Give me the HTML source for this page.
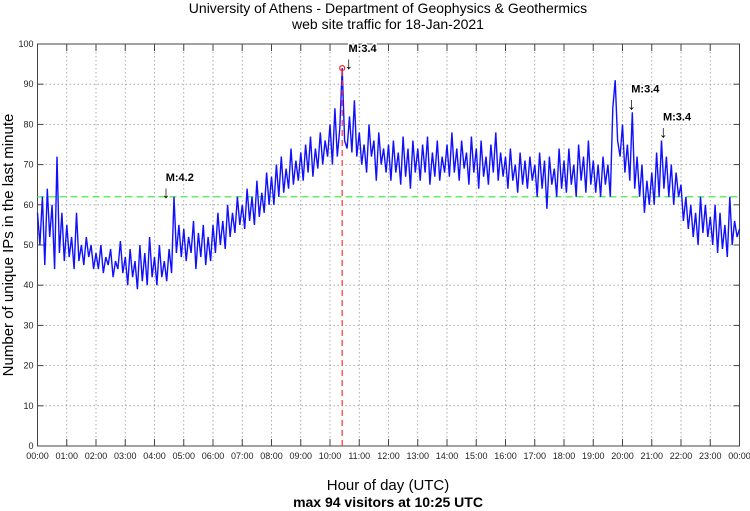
<!DOCTYPE html>
<html><head><meta charset="utf-8">
<style>
html,body{margin:0;padding:0;background:#fff;}
svg{display:block;font-family:"Liberation Sans",sans-serif;}
</style></head>
<body>
<svg id="chart" width="750" height="511" viewBox="0 0 750 511" xmlns="http://www.w3.org/2000/svg">
<text x="388" y="13" font-size="14" text-anchor="middle" fill="#000">University of Athens - Department of Geophysics &amp; Geothermics</text>
<text x="388" y="29" font-size="14" text-anchor="middle" fill="#000">web site traffic for 18-Jan-2021</text>
<text transform="translate(13,245) rotate(-90)" font-size="15" text-anchor="middle" fill="#000">Number of unique IPs in the last minute</text>
<text x="388" y="490" font-size="15" text-anchor="middle" fill="#000">Hour of day (UTC)</text>
<text x="388" y="507" font-size="14" font-weight="bold" text-anchor="middle" fill="#000">max 94 visitors at 10:25 UTC</text>
<g id="grid"></g>
<g id="axes"></g>
<g id="plot"></g>
</svg>
<script>
const yTicks = [0,10,20,30,40,50,60,70,80,90,100];
const xTickLabels = ["00:00","01:00","02:00","03:00","04:00","05:00","06:00","07:00","08:00","09:00","10:00","11:00","12:00","13:00","14:00","15:00","16:00","17:00","18:00","19:00","20:00","21:00","22:00","23:00","00:00"];
const stepMinutes = 5;
const visitors = [
58,50,62,45,64,52,60,44,72,48,58,46,
55,47,52,44,58,46,50,45,52,47,50,44,
48,44,50,43,47,45,49,42,46,44,51,43,
47,40,49,42,46,39,50,41,48,40,52,42,
47,40,50,42,46,41,49,43,62,48,55,47,
54,46,52,48,56,44,53,47,55,45,52,46,
55,48,58,50,56,49,60,52,58,53,62,55,
60,54,64,56,62,55,66,57,63,58,68,60,
67,60,70,62,72,63,69,64,74,65,71,66,
73,66,75,68,77,67,74,69,78,70,76,72,
80,70,84,72,79,94,76,74,82,73,86,72,
78,70,75,68,80,72,76,66,78,70,74,68,
75,66,76,68,73,65,77,67,74,64,76,68,
74,66,75,68,77,65,73,67,76,66,72,68,
75,67,78,68,74,66,76,69,73,65,77,68,
74,64,76,67,72,65,75,68,78,66,73,67,
72,64,74,66,70,63,73,65,71,64,72,66,
70,62,73,64,71,59,72,65,69,62,74,64,
71,63,74,65,70,62,75,66,72,63,76,65,
71,63,70,62,72,65,70,62,84,91,76,72,
80,68,75,66,83,64,72,62,70,58,66,60,
68,60,73,62,76,64,72,62,70,60,68,62,
65,56,62,54,60,52,58,50,62,53,60,52,
57,50,60,48,58,49,55,47,62,50,56,52,
54];
const avgLevel = 62;
const maxValue = 94;
const maxMinute = 625;
const quakeLabels = ["M:4.2","M:3.4","M:3.4","M:3.4"];
const quakeMinutes = [265,640,1220,1285];
const quakeValues = [62,94,84,77];

const L=37.5,R=739.5,T=44,B=446;
const xs = m => L + (R-L)*m/1440;
const ys = v => B - (B-T)*v/100;
const NS="http://www.w3.org/2000/svg";
function mk(tag,attrs,parent){const e=document.createElementNS(NS,tag);for(const k in attrs)e.setAttribute(k,attrs[k]);parent.appendChild(e);return e;}
const grid=document.getElementById('grid'),plot=document.getElementById('plot'),axes=document.getElementById('axes');

yTicks.forEach(v=>{
  if(v>0&&v<100){const g=mk('line',{x1:L,x2:R,y1:ys(v),y2:ys(v),stroke:'#999','stroke-width':0.8,'stroke-dasharray':'1.5,2.5'},grid);
  
  }
  const t=mk('text',{x:L-4,y:ys(v)+3,'font-size':9,'text-anchor':'end',fill:'#222'},axes);t.textContent=v;
  
  
  mk('line',{x1:L,x2:L+6,y1:ys(v),y2:ys(v),stroke:'#444'},axes);
  mk('line',{x1:R,x2:R-6,y1:ys(v),y2:ys(v),stroke:'#444'},axes);
});
xTickLabels.forEach((lab,i)=>{
  const x=xs(i*60);
  if(i>0&&i<24){const g=mk('line',{x1:x,x2:x,y1:T,y2:B,stroke:'#999','stroke-width':0.8,'stroke-dasharray':'1.5,2.5'},grid);
  
  }
  const t=mk('text',{x:x,y:B+13,'font-size':9,'text-anchor':'middle',fill:'#222'},axes);t.textContent=lab;
  
  
  mk('line',{x1:x,x2:x,y1:B,y2:B-7,stroke:'#444'},axes);
  mk('line',{x1:x,x2:x,y1:T,y2:T+7,stroke:'#444'},axes);
});
const frame=mk('rect',{x:L,y:T,width:R-L,height:B-T,fill:'none',stroke:'#444','stroke-width':1},axes);



const avg=mk('line',{x1:L,x2:R,y1:ys(avgLevel),y2:ys(avgLevel),stroke:'#66ee66','stroke-width':1.5,'stroke-dasharray':'7,4'},plot);



const pts=visitors.map((v,i)=>xs(i*stepMinutes).toFixed(1)+','+ys(v).toFixed(1)).join(' ');
const line=mk('polyline',{points:pts,fill:'none',stroke:'#1010ff','stroke-width':1.4,'stroke-linejoin':'miter'},plot);



const vl=mk('line',{x1:xs(maxMinute),x2:xs(maxMinute),y1:B,y2:ys(maxValue),stroke:'#ff3333','stroke-width':1.2,'stroke-dasharray':'6,4'},plot);


const mc=mk('circle',{cx:xs(maxMinute),cy:ys(maxValue),r:2.5,fill:'none',stroke:'#ff2222','stroke-width':1.2},plot);



quakeLabels.forEach((lab,i)=>{
  const x=xs(quakeMinutes[i]), y=ys(quakeValues[i]);
  const t=mk('text',{x:x-1,y:y-16,'font-size':11,'font-weight':'bold',fill:'#000',stroke:'#fff','stroke-width':2.5,'paint-order':'stroke'},plot);t.textContent=lab;
  
  
  const a=mk('text',{x:x-5,y:y+1,'font-size':17,fill:'#000'},plot);a.textContent='↓';
  
  
});
</script>
</body></html>
